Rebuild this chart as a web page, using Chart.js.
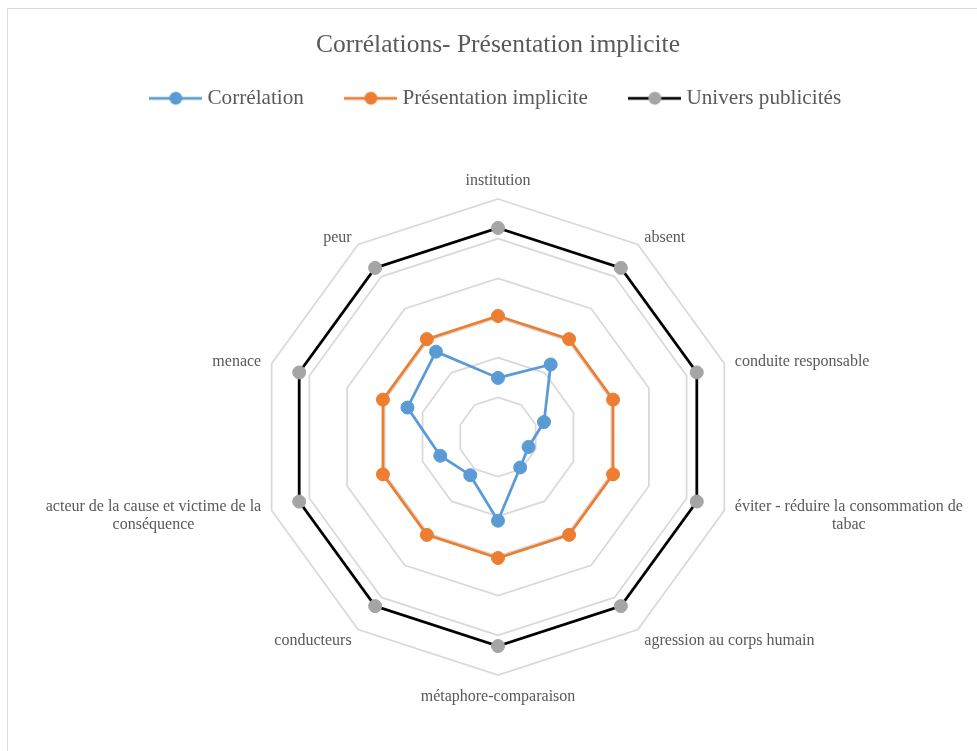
<!DOCTYPE html>
<html>
<head>
<meta charset="utf-8">
<script src="https://cdn.jsdelivr.net/npm/chart.js@4.4.1/dist/chart.umd.min.js"></script>
<style>
    html, body { margin: 0; padding: 0; background: #fff; overflow: hidden; }
    #wrap { position: relative; width: 977px; height: 751px; }
    #frame { position: absolute; left: 7px; top: 8px; width: 1200px; height: 1000px;
             border: 1px solid #d9d9d9; pointer-events: none; }
</style>
</head>
<body>
<div id="wrap">
    <canvas id="chart-radar" width="977" height="751"></canvas>
    <div id="frame"></div>
</div>
<script>
var chartTitle = "Corrélations- Présentation implicite";
var categories = [
    "institution",
    "absent",
    "conduite responsable",
    ["éviter - réduire la consommation de", "tabac"],
    "agression au corps humain",
    "métaphore-comparaison",
    "conducteurs",
    ["acteur de la cause et victime de la", "conséquence"],
    "menace",
    "peur"
];
var seriesNames = ["Corrélation", "Présentation implicite", "Univers publicités"];
var correlation = [1.49, 2.26, 1.22, 0.81, 0.95, 2.11, 1.19, 1.53, 2.40, 2.66];
var presentation = [3.05, 3.05, 3.05, 3.05, 3.05, 3.05, 3.05, 3.05, 3.05, 3.05];
var univers = [5.27, 5.27, 5.27, 5.27, 5.27, 5.27, 5.27, 5.27, 5.27, 5.27];

var textColor = "#595959";
var serif = "'Liberation Serif', 'Times New Roman', serif";

// legend marker: a short line with a dot, like Excel
function makeMarker(lineColor, dotColor) {
    let c = document.createElement("canvas");
    c.width = 53;
    c.height = 16;
    let ctx = c.getContext("2d");
    ctx.strokeStyle = lineColor;
    ctx.lineWidth = 2.75;
    ctx.beginPath();
    ctx.moveTo(0, 8);
    ctx.lineTo(53, 8);
    ctx.stroke();
    ctx.fillStyle = dotColor;
    ctx.beginPath();
    ctx.arc(26.5, 8, 6.5, 0, Math.PI * 2);
    ctx.fill();
    return c;
}

function makeDataset(label, data, lineColor, dotColor) {
    return {
        label: label,
        data: data,
        borderColor: lineColor,
        borderWidth: 2.75,
        backgroundColor: "transparent",
        fill: false,
        pointRadius: 6.5,
        pointBorderWidth: 1,
        pointBackgroundColor: dotColor,
        pointBorderColor: dotColor,
        marker: makeMarker(lineColor, dotColor)
    };
}

// category names around the polygon, placed from the scale's own geometry
var pointLabelPlugin = {
    id: "excelPointLabels",
    afterDraw(chart) {
        let scale = chart.scales.r;
        let ctx = chart.ctx;
        let lineH = 18;
        ctx.save();
        ctx.font = "16px " + serif;
        ctx.fillStyle = textColor;
        ctx.textBaseline = "middle";
        ctx.textAlign = "center";
        categories.forEach((cat, i) => {
            let lines = Array.isArray(cat) ? cat : [cat];
            let pos = scale.getPointPosition(i, scale.drawingArea + 11);
            let a = scale.getIndexAngle(i);
            let s = Math.sin(a), c = Math.cos(a);
            let w = Math.max(...lines.map(l => ctx.measureText(l).width));
            let h = lines.length * lineH;
            let cx, top;
            if (Math.abs(s) < 0.01) {
                cx = pos.x;
                top = c > 0 ? pos.y - h : pos.y;
            } else {
                cx = s > 0 ? pos.x + w / 2 : pos.x - w / 2;
                top = pos.y - h / 2;
            }
            lines.forEach((l, k) => ctx.fillText(l, cx, top + lineH * k + lineH / 2 + 2));
        });
        ctx.restore();
    }
};

function createRadarChart(id) {
    let ctx = document.getElementById(id).getContext("2d");
    let chart = new Chart(ctx, {
        type: "radar",
        data: {
            labels: categories,
            datasets: [
                makeDataset(seriesNames[0], correlation, "#5B9BD5", "#5B9BD5"),
                makeDataset(seriesNames[1], presentation, "#ED7D31", "#ED7D31"),
                makeDataset(seriesNames[2], univers, "#000000", "#A5A5A5")
            ]
        },
        options: {
            responsive: false,
            animation: false,
            layout: {
                padding: { left: 19, right: 0, top: 0, bottom: 75 }
            },
            plugins: {
                title: {
                    display: true,
                    text: chartTitle,
                    color: textColor,
                    font: { family: serif, size: 25.5, weight: "normal" },
                    padding: { top: 30, bottom: -19 }
                },
                legend: {
                    display: true,
                    position: "top",
                    labels: {
                        usePointStyle: true,
                        pointStyleWidth: 42,
                        padding: 46,
                        color: textColor,
                        font: { family: serif, size: 21.2 },
                        generateLabels: (chart) => chart.data.datasets.map((ds, i) => ({
                            text: ds.label,
                            pointStyle: ds.marker,
                            fillStyle: ds.pointBackgroundColor,
                            strokeStyle: ds.borderColor,
                            lineWidth: 0,
                            hidden: false,
                            datasetIndex: i,
                            fontColor: textColor
                        }))
                    }
                },
                // empty spacer between the legend and the plot
                subtitle: {
                    display: true,
                    text: "",
                    weight: 100,
                    font: { size: 10 },
                    padding: { top: 0, bottom: 68.7 }
                },
                tooltip: { enabled: false }
            },
            scales: {
                r: {
                    min: 0,
                    max: 6,
                    ticks: { display: false, stepSize: 1 },
                    angleLines: { display: false },
                    pointLabels: { display: false },
                    grid: {
                        circular: false,
                        color: "#D9D9D9",
                        lineWidth: 1.75
                    }
                }
            }
        },
        plugins: [pointLabelPlugin]
    });
    return chart;
}

createRadarChart("chart-radar");
</script>
</body>
</html>
